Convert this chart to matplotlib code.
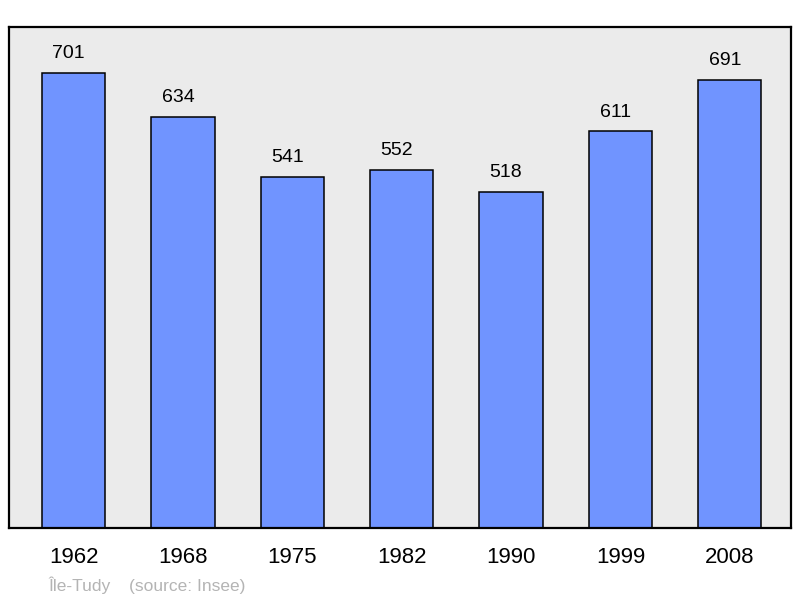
import matplotlib.pyplot as plt

years = ['1962', '1968', '1975', '1982', '1990', '1999', '2008']
population = [701, 634, 541, 552, 518, 611, 691]
commune = 'Île-Tudy'
source = '(source: Insee)'

plt.rcParams['font.family'] = ['Liberation Sans', 'DejaVu Sans']

fig = plt.figure(figsize=(8, 5.98), dpi=100)
ax = fig.add_axes([9 / 800, 70 / 598, 782 / 800, 501 / 598])
ax.set_facecolor('#ebebeb')

x = range(len(years))
ax.bar(x, population, width=0.58, color='#7094ff', edgecolor='black', linewidth=1.1, zorder=2)

for i, v in zip(x, population):
    ax.annotate(str(v), (i, v), xytext=(-3.6, 10.5), textcoords='offset points',
                ha='center', va='baseline', fontsize=14)

ax.set_xlim(-0.59, 6.56)
ax.set_ylim(0, 772)
ax.set_xticks(list(x))
ax.set_xticklabels(years, fontsize=16)
ax.tick_params(axis='x', length=0, pad=14)
ax.set_yticks([])
for s in ax.spines.values():
    s.set_linewidth(1.6)

fig.text(48 / 800, 1 - 591 / 598, commune, color='#b4b4b4', fontsize=12.5, va='baseline')
fig.text(129 / 800, 1 - 591 / 598, source, color='#b4b4b4', fontsize=12.5, va='baseline')

fig.savefig('out.png', dpi=100)
